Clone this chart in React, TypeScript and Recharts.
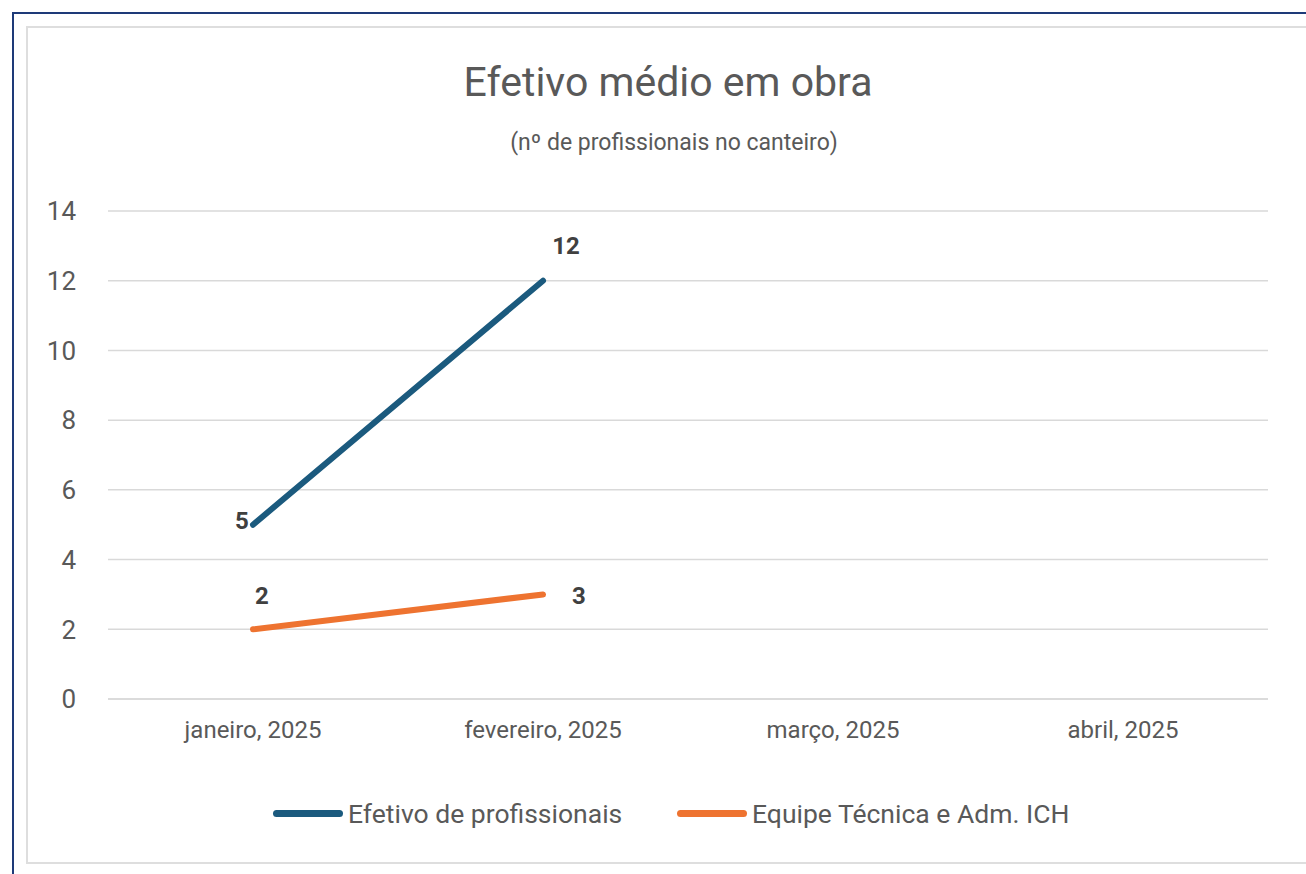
import React from "react";
import { LineChart, Line, XAxis, YAxis, CartesianGrid, LabelList } from "recharts";

const months = ["janeiro, 2025", "fevereiro, 2025", "março, 2025", "abril, 2025"];
const efetivo: (number | null)[] = [5, 12, null, null];
const equipe: (number | null)[] = [2, 3, null, null];
const yTicks = [0, 2, 4, 6, 8, 10, 12, 14];
const boundaryTicks = [0, 1, 2, 3, 4];

const seriesNames = ["Efetivo de profissionais", "Equipe Técnica e Adm. ICH"];
const seriesColors = ["#1b5a7e", "#ee7330"];

const data = months.map((m, i) => ({ month: m, efetivo: efetivo[i], equipe: equipe[i] }));

const FONT = "Roboto, 'Noto Sans', sans-serif";
const TEXT = "#595959";

const makeLabel = (offsets: { dx: number; dy: number }[]) => (props: any) => {
  const { x, y, value, index } = props;
  if (value == null) return null;
  const o = offsets[index] || { dx: 0, dy: -20 };
  return (
    <text
      x={x + o.dx}
      y={y + o.dy}
      textAnchor="middle"
      dominantBaseline="central"
      fontFamily={FONT}
      fontWeight={700}
      fontSize={24}
      fill="#404040"
    >
      {value}
    </text>
  );
};

const efetivoLabel = makeLabel([
  { dx: -11, dy: -4 },
  { dx: 23, dy: -35 },
]);
const equipeLabel = makeLabel([
  { dx: 9, dy: -33 },
  { dx: 36, dy: 2 },
]);

export default function App() {
  return (
    <div
      style={{
        position: "absolute",
        left: 0,
        top: 0,
        width: 1306,
        height: 874,
        background: "#fff",
        overflow: "hidden",
        fontFamily: FONT,
      }}
    >
      <div
        style={{
          position: "absolute",
          left: 12,
          top: 12,
          width: 1400,
          height: 1000,
          border: "2px solid #1e3a78",
          boxSizing: "border-box",
        }}
      />
      <div
        style={{
          position: "absolute",
          left: 26,
          top: 26,
          width: 1400,
          height: 838,
          border: "2px solid #dedede",
          boxSizing: "border-box",
        }}
      />
      <div
        style={{
          position: "absolute",
          left: 268,
          width: 800,
          top: 56,
          textAlign: "center",
          fontSize: 41,
          color: TEXT,
          lineHeight: "52px",
        }}
      >
        Efetivo médio em obra
      </div>
      <div
        style={{
          position: "absolute",
          left: 274,
          width: 800,
          top: 129,
          textAlign: "center",
          fontSize: 23,
          color: TEXT,
          lineHeight: "28px",
        }}
      >
        (nº de profissionais no canteiro)
      </div>
      <div style={{ position: "absolute", left: 0, top: 0 }}>
        <LineChart
          width={1306}
          height={874}
          data={data}
          margin={{ top: 211, right: 38, bottom: 120, left: 0 }}
        >
          <CartesianGrid horizontal vertical={false} stroke="#d9d9d9" strokeWidth={1.5} />
          <XAxis
            xAxisId="bounds"
            type="number"
            domain={[0, 4]}
            ticks={boundaryTicks}
            tick={false}
            tickSize={6}
            height={6}
            axisLine={{ stroke: "#d9d9d9", strokeWidth: 1.5 }}
            tickLine={{ stroke: "#d9d9d9", strokeWidth: 1.5 }}
          />
          <XAxis
            xAxisId="cat"
            dataKey="month"
            scale="band"
            axisLine={false}
            tickLine={false}
            height={49}
            tickMargin={10}
            tick={{ fontFamily: FONT, fontSize: 24, fill: TEXT }}
          />
          <YAxis
            domain={[0, 14]}
            ticks={yTicks}
            axisLine={false}
            tickLine={false}
            width={108}
            tickMargin={26}
            tick={{ fontFamily: FONT, fontSize: 26, fill: TEXT }}
          />
          <Line
            xAxisId="cat"
            dataKey="efetivo"
            stroke={seriesColors[0]}
            strokeWidth={6}
            dot={false}
            strokeLinecap="round"
            isAnimationActive={false}
          >
            <LabelList dataKey="efetivo" content={efetivoLabel} />
          </Line>
          <Line
            xAxisId="cat"
            dataKey="equipe"
            stroke={seriesColors[1]}
            strokeWidth={6}
            dot={false}
            strokeLinecap="round"
            isAnimationActive={false}
          >
            <LabelList dataKey="equipe" content={equipeLabel} />
          </Line>
        </LineChart>
      </div>
      <div
        style={{
          position: "absolute",
          left: 0,
          width: 1306,
          top: 796,
          height: 34,
        }}
      >
        {seriesNames.map((n, i) => (
          <div
            key={n}
            style={{
              position: "absolute",
              left: i === 0 ? 273 : 677,
              top: 0,
              height: 34,
              display: "flex",
              alignItems: "center",
            }}
          >
            <span
              style={{
                display: "inline-block",
                width: 70,
                height: 7,
                borderRadius: 4,
                background: seriesColors[i],
                marginRight: 5,
              }}
            />
            <span style={{ fontSize: 26.5, color: TEXT, whiteSpace: "nowrap" }}>{n}</span>
          </div>
        ))}
      </div>
    </div>
  );
}
